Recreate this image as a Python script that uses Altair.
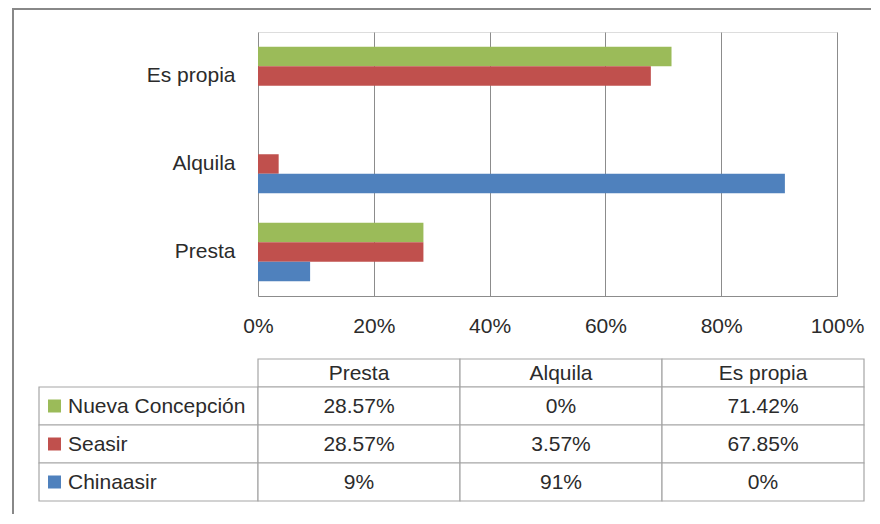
import altair as alt
import pandas as pd

# ---- data ----
categories = ["Presta", "Alquila", "Es propia"]
series = ["Nueva Concepción", "Seasir", "Chinaasir"]
nueva_concepcion = [28.57, 0, 71.42]
seasir = [28.57, 3.57, 67.85]
chinaasir = [9, 91, 0]
x_ticks = [0, 20, 40, 60, 80, 100]
colors = ["#9BBB59", "#C0504D", "#4F81BD"]

series_values = [nueva_concepcion, seasir, chinaasir]

rows = []
for s, vals in zip(series, series_values):
    for c, v in zip(categories, vals):
        rows.append({"category": c, "series": s, "value": v})
df = pd.DataFrame(rows)

# ---- style / layout ----
FONT = "Liberation Sans"
TXT = "#2b2b2b"
GRID = "#8c8c8c"
FRAME = "#888888"
TBL = "#a6a6a6"
FS = 21

PLOT_W, PLOT_H = 579, 264
COL_W = 202          # table column width
LEG_W = 219          # legend column width
HEAD_H = 28
ROW_H = 38
T_TOP = 327          # table top, relative to plot origin

color_scale = alt.Scale(domain=series, range=colors)
cat_order = list(reversed(categories))

bars = alt.Chart(df).mark_bar().encode(
    x=alt.X(
        "value:Q",
        scale=alt.Scale(domain=[0, 100]),
        axis=alt.Axis(
            values=x_ticks, labelExpr="datum.value + '%'", title=None,
            grid=True, gridColor=GRID, gridWidth=1, domainColor=GRID,
            ticks=False, labelPadding=19, labelFontSize=FS, labelFont=FONT,
            labelColor=TXT, labelFlush=False,
        ),
    ),
    y=alt.Y(
        "category:N", sort=cat_order,
        scale=alt.Scale(paddingInner=0.335, paddingOuter=0.1675),
        axis=alt.Axis(title=None, ticks=False, domain=False, labelPadding=23,
                      labelFontSize=FS, labelFont=FONT, labelColor=TXT),
    ),
    yOffset=alt.YOffset("series:N", sort=series),
    color=alt.Color("series:N", scale=color_scale, legend=None),
)

one = pd.DataFrame({"k": [0]})
frame_top = alt.Chart(one).mark_rule(color=FRAME, strokeWidth=2).encode(
    x=alt.value(-246), x2=alt.value(613), y=alt.value(-23)
)
frame_left = alt.Chart(one).mark_rule(color=FRAME, strokeWidth=2).encode(
    x=alt.value(-245), y=alt.value(-23), y2=alt.value(482)
)

# ---- data table (pixel layout, relative to plot origin) ----
cells = []
for j in range(3):
    cells.append({"x0": j * COL_W, "x1": (j + 1) * COL_W,
                  "y0": T_TOP, "y1": T_TOP + HEAD_H})
for i in range(3):
    y0 = T_TOP + HEAD_H + i * ROW_H
    cells.append({"x0": -LEG_W, "x1": 0, "y0": y0, "y1": y0 + ROW_H})
    for j in range(3):
        cells.append({"x0": j * COL_W, "x1": (j + 1) * COL_W,
                      "y0": y0, "y1": y0 + ROW_H})
cells_df = pd.DataFrame(cells)

texts = []
for j, c in enumerate(categories):
    texts.append({"x": j * COL_W + COL_W / 2, "y": T_TOP + HEAD_H / 2, "t": c})
for i, vals in enumerate(series_values):
    for j, v in enumerate(vals):
        texts.append({"x": j * COL_W + COL_W / 2,
                      "y": T_TOP + HEAD_H + i * ROW_H + ROW_H / 2,
                      "t": f"{v:g}%"})
texts_df = pd.DataFrame(texts)

leg = []
for i, s in enumerate(series):
    yc = T_TOP + HEAD_H + i * ROW_H + ROW_H / 2
    leg.append({"s": s, "sx0": -LEG_W + 9, "sx1": -LEG_W + 22,
                "sy0": yc - 6.5, "sy1": yc + 6.5, "tx": -LEG_W + 29, "ty": yc})
leg_df = pd.DataFrame(leg)

cell_layer = alt.Chart(cells_df).mark_rect(fill="white", stroke=TBL, strokeWidth=1.2).encode(
    x=alt.X("x0:Q", scale=None), x2="x1:Q",
    y=alt.Y("y0:Q", scale=None), y2="y1:Q",
)
text_layer = alt.Chart(texts_df).mark_text(
    font=FONT, fontSize=FS, color=TXT, align="center", baseline="middle", dy=1
).encode(
    x=alt.X("x:Q", scale=None), y=alt.Y("y:Q", scale=None), text="t:N"
)
swatch_layer = alt.Chart(leg_df).mark_rect().encode(
    x=alt.X("sx0:Q", scale=None), x2="sx1:Q",
    y=alt.Y("sy0:Q", scale=None), y2="sy1:Q",
    color=alt.Color("s:N", scale=color_scale, legend=None),
)
leg_text_layer = alt.Chart(leg_df).mark_text(
    font=FONT, fontSize=FS, color=TXT, align="left", baseline="middle", dy=1
).encode(
    x=alt.X("tx:Q", scale=None), y=alt.Y("ty:Q", scale=None), text="s:N"
)

chart = alt.layer(
    bars, frame_top, frame_left,
    cell_layer, swatch_layer, text_layer, leg_text_layer,
).resolve_scale(
    x="independent", y="independent", color="independent"
).properties(
    width=PLOT_W, height=PLOT_H,
    padding={"left": 3, "top": 0, "right": 0, "bottom": 0},
).configure_view(stroke=None).configure(font=FONT)

chart.save("out.html", embed_options={"renderer": "svg", "actions": False})
